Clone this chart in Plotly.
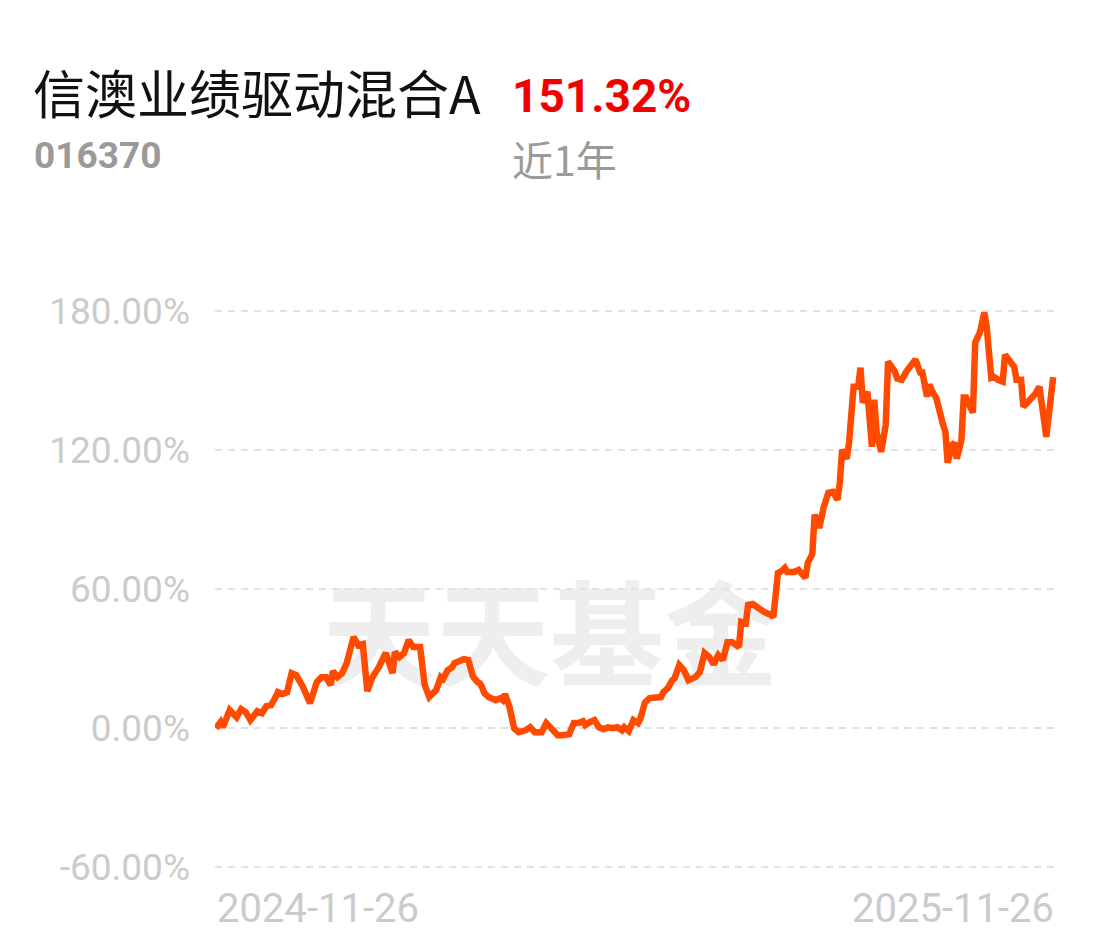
import pandas as pd
import plotly.graph_objects as go

fund_name = "信澳业绩驱动混合A"
fund_code = "016370"
period_return = "151.32%"
period_label = "近1年"
start_date = "2024-11-26"
end_date = "2025-11-26"

# day offsets from start date
day_offsets = [0, 2, 3, 6, 9, 11, 13, 15, 18, 20, 22, 24, 26, 27, 29, 31, 33, 35, 38, 40,
               41, 44, 46, 48, 50, 51, 53, 55, 57, 60, 62, 64, 66, 68, 71, 74, 77, 78, 80, 82,
               84, 86, 89, 91, 93, 96, 98, 99, 101, 103, 104, 106, 108, 110, 112, 114, 115, 116, 117, 119,
               122, 124, 125, 126, 128, 130, 132, 135, 137, 139, 142, 144, 147, 149, 151, 154, 156, 158, 160, 161,
               163, 165, 167, 169, 171, 173, 175, 177, 178, 180, 182, 184, 185, 187, 189, 191, 194, 195, 197, 199,
               200, 202, 204, 206, 209, 211, 213, 215, 217, 219, 221, 223, 225, 228, 229, 231, 232, 234, 236, 239,
               242, 243, 245, 246, 248, 249, 252, 254, 257, 258, 260, 261, 262, 263, 265, 267, 269, 271, 272, 273,
               275, 276, 278, 280, 281, 282, 284, 286, 287, 288, 290, 292, 293, 296, 297, 299, 301, 304, 305, 307,
               308, 310, 311, 313, 314, 317, 318, 319, 321, 322, 323, 325, 326, 327, 330, 331, 333, 335, 336, 338,
               339, 341, 343, 344, 346, 348, 349, 351, 352, 354, 357, 359, 361, 362, 365]

returns = [0.0, 2.6, 0.4, 7.8, 4.7, 8.2, 6.9, 3.5, 7.3, 6.5, 9.5, 9.9, 13.4, 15.5, 14.7, 15.5, 23.7, 22.9, 17.7, 12.9,
           10.8, 19.9, 22.0, 22.0, 18.6, 24.6, 22.0, 23.7, 28.1, 39.3, 35.8, 36.3, 16.0, 21.6, 26.3, 32.4, 23.7, 32.8, 30.7, 32.4,
           38.0, 35.0, 35.0, 18.6, 13.5, 16.4, 22.0, 21.2, 25.0, 26.3, 28.1, 28.9, 29.8, 29.4, 22.4, 19.9, 19.4, 17.7, 15.1, 13.4,
           12.1, 12.9, 12.1, 14.7, 9.1, 0.0, -1.7, -0.9, 0.4, -1.7, -1.7, 2.2, -1.3, -3.0, -3.0, -2.6, 2.2, 2.2, 3.0, 1.3,
           2.6, 3.5, 0.4, -0.4, 0.4, 0.0, 0.4, -0.9, 0.4, -1.3, 3.5, 2.2, 4.0, 11.0, 13.0, 13.4, 13.4, 15.5, 17.3, 20.7,
           21.6, 27.2, 25.0, 20.7, 22.0, 24.2, 32.4, 30.7, 27.6, 31.5, 29.4, 37.1, 37.1, 35.0, 45.8, 45.3, 53.1, 53.5, 51.8, 50.1,
           48.8, 47.9, 66.9, 67.3, 69.1, 67.3, 67.3, 68.2, 64.8, 71.2, 75.1, 92.0, 89.8, 86.3, 95.4, 101.5, 101.9, 98.4, 106.2, 120.0,
           116.1, 123.0, 147.2, 147.2, 155.4, 140.3, 145.0, 121.3, 141.6, 127.8, 119.1, 130.8, 158.0, 153.7, 150.7, 150.2, 153.7, 158.0, 158.9, 153.3,
           153.3, 142.9, 148.1, 143.8, 142.5, 130.8, 127.8, 114.4, 122.2, 123.0, 116.1, 124.3, 142.5, 142.5, 136.0, 166.2, 170.5, 179.2, 173.1, 151.1,
           151.5, 150.2, 149.4, 161.0, 158.0, 155.8, 150.2, 150.2, 138.6, 140.7, 143.8, 147.2, 130.8, 125.6, 151.32]

y_ticks = [-60, 0, 60, 120, 180]
y_tick_labels = ["-60.00%", "0.00%", "60.00%", "120.00%", "180.00%"]

dates = pd.Timestamp(start_date) + pd.to_timedelta(day_offsets, unit="D")

# page offset of the figure (default body margin)
OFF = 8
W, H = 1102 - OFF, 951 - OFF
L, T = 215 - OFF, 299 - OFF
PW, PH = 842, 580
R, B = W - L - PW, H - T - PH


def px(x):
    return (x - OFF - L) / PW


def py(y):
    return (T + PH - (y - OFF)) / PH


fig = go.Figure()
fig.add_trace(go.Scatter(
    x=dates, y=returns, mode="lines",
    line=dict(color="#FF4A00", width=6.5),
    hoverinfo="skip", showlegend=False,
))

x0 = pd.Timestamp(start_date) - pd.Timedelta(hours=10)
x1 = pd.Timestamp(end_date) + pd.Timedelta(hours=40)

fig.update_layout(
    width=W, height=H,
    margin=dict(l=L, r=R, t=T, b=B, pad=0),
    paper_bgcolor="white", plot_bgcolor="white",
    xaxis=dict(range=[x0, x1], showgrid=False, showticklabels=False, zeroline=False,
               showline=False, ticks=""),
    yaxis=dict(range=[-65, 185], tickvals=y_ticks, ticktext=y_tick_labels,
               showgrid=True, gridcolor="#e2e2e2", gridwidth=2, griddash="7px,6px",
               zeroline=False, showline=False, ticks="", ticklabelstandoff=24,
               tickfont=dict(family="Roboto", size=37, color="#cbcbcb")),
    shapes=[dict(type="rect", xref="paper", yref="paper",
                 x0=px(320), x1=px(780), y0=py(708), y1=py(583),
                 line=dict(width=0), fillcolor="rgba(0,0,0,0)", layer="below",
                 label=dict(text="<b>天天基金</b>", textposition="middle center",
                            font=dict(family="Noto Sans CJK SC", size=114, color="#eeeeee")))],
)

ann = [
    dict(text=fund_name, x=px(31), y=py(92), xanchor="left", yanchor="middle",
         font=dict(family="Noto Sans CJK SC", size=52, color="#111111")),
    dict(text="<b>" + period_return + "</b>", x=px(510), y=py(96), xanchor="left", yanchor="middle",
         font=dict(family="Roboto", size=46, color="#F20000")),
    dict(text="<b>" + fund_code + "</b>", x=px(32), y=py(156), xanchor="left", yanchor="middle",
         font=dict(family="Roboto", size=37, color="#9a9a9a")),
    dict(text=period_label, x=px(510), y=py(158), xanchor="left", yanchor="middle",
         font=dict(family="Noto Sans CJK SC", size=41, color="#9a9a9a")),
    dict(text=start_date, x=px(215), y=py(908), xanchor="left", yanchor="middle",
         font=dict(family="Roboto", size=40, color="#cbcbcb")),
    dict(text=end_date, x=px(1056), y=py(908), xanchor="right", yanchor="middle",
         font=dict(family="Roboto", size=40, color="#cbcbcb")),
]
for a in ann:
    a.update(xref="paper", yref="paper", showarrow=False)
fig.update_layout(annotations=ann)

fig.write_html("out.html")
